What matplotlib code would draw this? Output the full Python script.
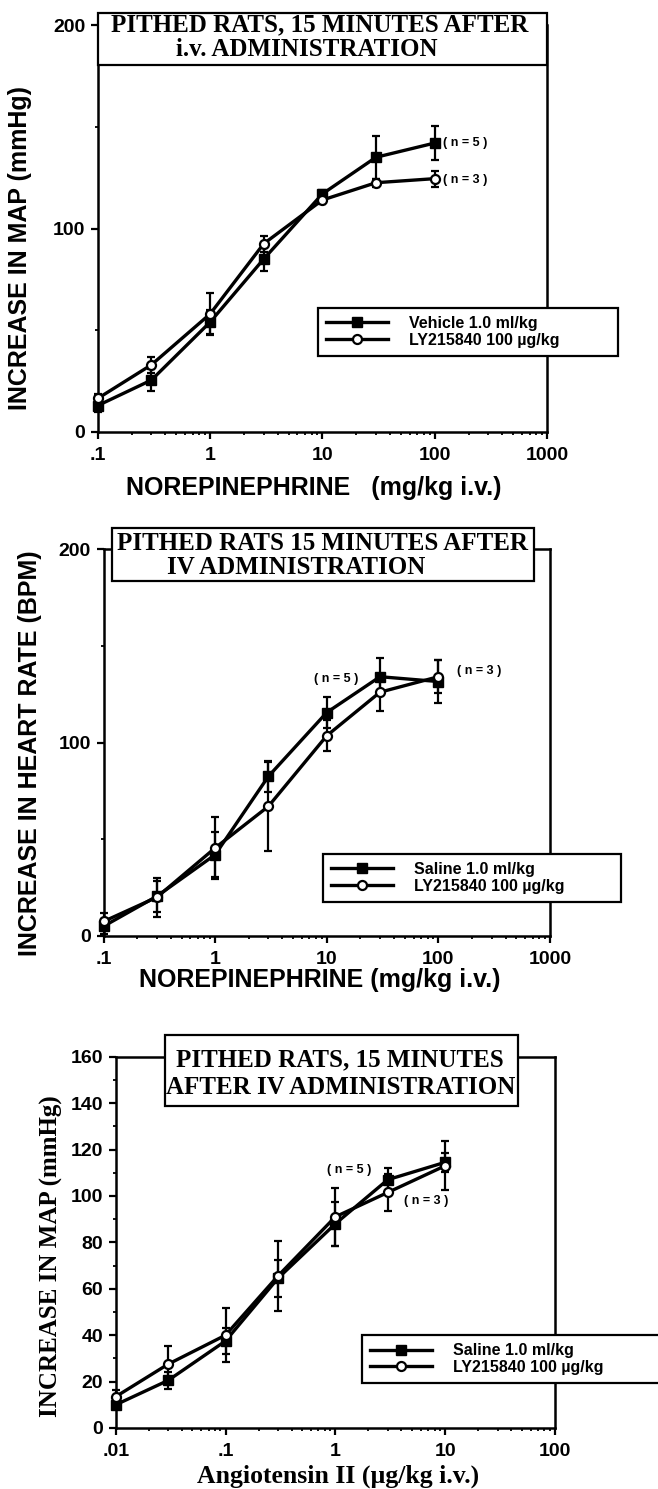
import matplotlib
matplotlib.use("Agg")
import matplotlib.pyplot as plt
from matplotlib.patches import Rectangle
from matplotlib.ticker import LogLocator, NullFormatter, MultipleLocator

plt.rcParams['font.family'] = ['Liberation Sans', 'DejaVu Sans']

# Data
ne_doses = [0.1, 0.3, 1, 3, 10, 30, 100]
map_vehicle = [13, 25.5, 54, 85, 117, 135, 142]
map_vehicle_err = [3, 5.5, 6, 6, 2, 10.5, 8.5]
map_ly = [16.5, 33, 58, 92.5, 114, 122.5, 124.5]
map_ly_err = [2, 4, 10.5, 4, 2, 2, 4]

hr_saline = [5, 20.5, 42, 82.5, 115.5, 134, 131.5]
hr_saline_err = [4, 8, 11.5, 8, 8, 9.5, 11]
hr_ly = [7.5, 20, 45.5, 67, 103.5, 126, 134]
hr_ly_err = [4.5, 10, 16, 23, 8, 9.5, 8.5]

ang_doses = [0.01, 0.03, 0.1, 0.3, 1, 3, 10]
ang_saline = [10, 20.5, 37.5, 64.5, 88, 107, 114.5]
ang_saline_err = [2, 3.5, 5.5, 8, 9.5, 5, 4]
ang_ly = [13.5, 27.5, 40, 65.5, 91, 101.5, 113]
ang_ly_err = [3, 8, 11.5, 15, 12.5, 8, 10.5]

W, H = 658, 1489
fig = plt.figure(figsize=(W / 100, H / 100), dpi=100)


def px_rect(left, right, top, bottom):
    return [left / W, 1 - bottom / H, (right - left) / W, (bottom - top) / H]


def style_axes(ax, xticks, xlabels, ymax, ymajor, yminor):
    ax.set_xscale('log')
    ax.set_xlim(xticks[0], xticks[-1])
    ax.set_ylim(0, ymax)
    ax.set_xticks(xticks)
    ax.set_xticklabels(xlabels)
    ax.xaxis.set_minor_locator(LogLocator(base=10, subs=range(2, 10)))
    ax.xaxis.set_minor_formatter(NullFormatter())
    ax.yaxis.set_major_locator(MultipleLocator(ymajor))
    ax.yaxis.set_minor_locator(MultipleLocator(yminor))
    for s in ax.spines.values():
        s.set_linewidth(1.8)
    ax.tick_params(which='major', direction='out', length=5, width=1.6,
                   labelsize=14, pad=4)
    ax.tick_params(which='minor', direction='out', length=2.5, width=1.3)
    ax.tick_params(axis='x', which='major', pad=6)
    for lab in ax.get_xticklabels() + ax.get_yticklabels():
        lab.set_fontweight('bold')


def draw_series(ax, x, y1, e1, y2, e2):
    kw = dict(color='black', lw=2.4, elinewidth=1.6, capsize=3, capthick=1.6,
              ms=6.5, clip_on=False, zorder=3)
    h1 = ax.errorbar(x, y1, yerr=e1, fmt='-s', mfc='black', mec='black', **kw)
    h2 = ax.errorbar(x, y2, yerr=e2, fmt='-o', mfc='white', mec='black',
                     mew=1.6, **kw)
    return h1[0], h2[0]


def title_box(ax, x0, x1, y0, y1):
    ax.add_patch(Rectangle((x0, y0), x1 - x0, y1 - y0, transform=ax.transAxes,
                           facecolor='white', edgecolor='black', lw=1.6,
                           clip_on=False, zorder=5))


def legend(ax, handles, labels, x0, x1, y0):
    leg = ax.legend(handles, labels, loc='lower left', mode='expand',
                    bbox_to_anchor=(x0, y0, x1 - x0, 0.1), borderaxespad=0,
                    frameon=True, fancybox=False, framealpha=1,
                    edgecolor='black', handlelength=3.9,
                    handletextpad=1.3, borderpad=0.5, labelspacing=0.12,
                    prop={'weight': 'bold', 'size': 11.5})
    leg.get_frame().set_linewidth(1.6)
    leg.set_zorder(6)
    return leg


serif = ['Liberation Serif', 'DejaVu Serif']
tkw = dict(family=serif, fontweight='bold', fontsize=18, va='center', zorder=7)
nkw = dict(fontsize=9, fontweight='bold', va='center', ha='left')

# Panel 1: MAP, norepinephrine
ax1 = fig.add_axes(px_rect(97.8, 547, 25, 432))
style_axes(ax1, [0.1, 1, 10, 100, 1000], ['.1', '1', '10', '100', '1000'],
           200, 100, 50)
ax1.spines['top'].set_visible(False)
h1, h2 = draw_series(ax1, ne_doses, map_vehicle, map_vehicle_err, map_ly, map_ly_err)
title_box(ax1, 0, 1, 0.902, 1.0295)
ax1.text(0.495, 1.0, 'PITHED RATS, 15 MINUTES AFTER', transform=ax1.transAxes,
         ha='center', **tkw)
ax1.text(0.465, 0.9386, 'i.v. ADMINISTRATION', transform=ax1.transAxes,
         ha='center', **tkw)
ax1.text(118, 142, '( n = 5 )', **nkw)
ax1.text(118, 124, '( n = 3 )', **nkw)
legend(ax1, [h1, h2], ['Vehicle 1.0 ml/kg', 'LY215840 100 \u00b5g/kg'], 0.49, 1.157, 0.187)
fig.text(0.031, 0.8334, 'INCREASE IN MAP (mmHg)', rotation=90, ha='center',
         va='center', fontsize=18, fontweight='bold')
fig.text(0.477, 0.6723, 'NOREPINEPHRINE   (mg/kg i.v.)', ha='center',
         va='center', fontsize=18, fontweight='bold')

# Panel 2: heart rate, norepinephrine
ax2 = fig.add_axes(px_rect(103.5, 550, 549, 936))
style_axes(ax2, [0.1, 1, 10, 100, 1000], ['.1', '1', '10', '100', '1000'],
           200, 100, 50)
h1, h2 = draw_series(ax2, ne_doses, hr_saline, hr_saline_err, hr_ly, hr_ly_err)
title_box(ax2, 0.02, 0.964, 0.917, 1.054)
ax2.text(0.4916, 1.0155, 'PITHED RATS 15 MINUTES AFTER', transform=ax2.transAxes,
         ha='center', **tkw)
ax2.text(0.142, 0.951, 'IV ADMINISTRATION', transform=ax2.transAxes,
         ha='left', **tkw)
ax2.text(7.7, 133, '( n = 5 )', **nkw)
ax2.text(147, 137, '( n = 3 )', **nkw)
legend(ax2, [h1, h2], ['Saline 1.0 ml/kg', 'LY215840 100 \u00b5g/kg'], 0.492, 1.159, 0.088)
fig.text(0.046, 0.4943, 'INCREASE IN HEART RATE (BPM)', rotation=90, ha='center',
         va='center', fontsize=18, fontweight='bold')
fig.text(0.4863, 0.3418, 'NOREPINEPHRINE (mg/kg i.v.)', ha='center',
         va='center', fontsize=18, fontweight='bold')

# Panel 3: MAP, angiotensin II
ax3 = fig.add_axes(px_rect(115.7, 555, 1056.7, 1428))
style_axes(ax3, [0.01, 0.1, 1, 10, 100], ['.01', '.1', '1', '10', '100'],
           160, 20, 10)
h1, h2 = draw_series(ax3, ang_doses, ang_saline, ang_saline_err, ang_ly, ang_ly_err)
title_box(ax3, 0.112, 0.915, 0.867, 1.058)
ax3.text(0.5106, 0.991, 'PITHED RATS, 15 MINUTES', transform=ax3.transAxes,
         ha='center', **tkw)
ax3.text(0.5117, 0.918, 'AFTER IV ADMINISTRATION', transform=ax3.transAxes,
         ha='center', **tkw)
ax3.text(0.834, 111, '( n = 5 )', **nkw)
ax3.text(4.22, 98, '( n = 3 )', **nkw)
legend(ax3, [h1, h2], ['Saline 1.0 ml/kg', 'LY215840 100 \u00b5g/kg'], 0.561, 1.30, 0.121)
fig.text(0.0775, 0.1565, 'INCREASE IN MAP (mmHg)', rotation=90, ha='center',
         va='center', fontsize=18, fontweight='bold', family=serif)
fig.text(0.5137, 0.0085, 'Angiotensin II (\u00b5g/kg i.v.)', ha='center',
         va='center', fontsize=18.5, fontweight='bold', family=serif)

fig.savefig('out.png', dpi=100)
